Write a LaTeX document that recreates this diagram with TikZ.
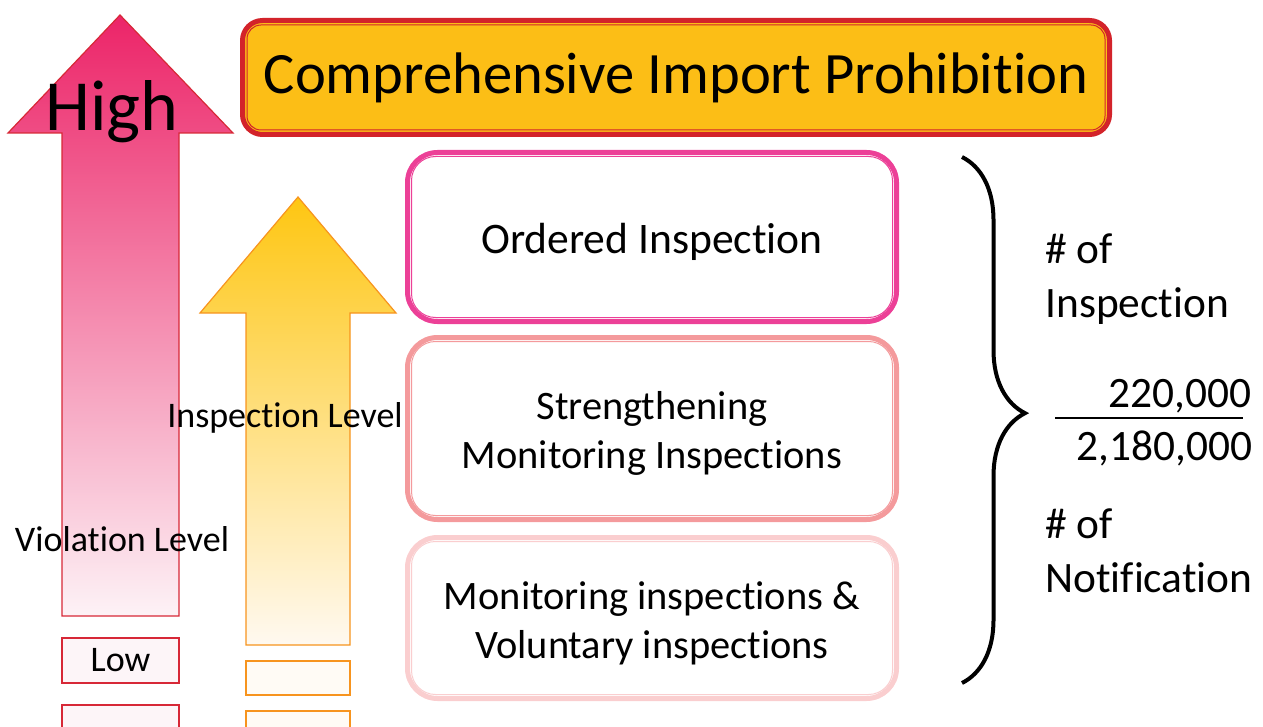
\documentclass[tikz,border=0pt]{standalone}
\usepackage{fontspec}
\setmainfont{Carlito}[Ligatures=NoCommon]
\usetikzlibrary{decorations.pathreplacing}

\definecolor{titlefill}{RGB}{252,190,22}
\definecolor{titleline}{RGB}{211,35,42}
\definecolor{vtop}{RGB}{236,36,104}
\definecolor{vbot}{RGB}{253,242,246}
\definecolor{vline}{RGB}{215,40,55}
\definecolor{vfill}{RGB}{253,245,248}
\definecolor{itop}{RGB}{254,198,18}
\definecolor{ibot}{RGB}{255,249,240}
\definecolor{iline}{RGB}{247,148,30}
\definecolor{ifill}{RGB}{255,251,245}
\definecolor{oiline}{RGB}{236,64,151}
\definecolor{smiline}{RGB}{244,154,156}
\definecolor{mviline}{RGB}{250,206,207}

\tikzset{
  stage/.style={draw=#1, line width=2.5pt, rounded corners=15pt, fill=white,
    minimum width=244.5pt, inner sep=0pt},
  stagetext/.style={align=center, inner sep=0pt, font=\fontsize{20.2}{24.5}\selectfont},
  levelbox/.style={draw=#1, line width=0.8pt, inner sep=0pt},
  lbl/.style={inner sep=0pt, font=\fontsize{18}{22}\selectfont},
  side/.style={inner sep=0pt, align=left, font=\fontsize{21.7}{27}\selectfont},
}

\begin{document}
\begin{tikzpicture}[x=0.5pt,y=-0.5pt]
  \useasboundingbox (0,0) rectangle (1263,727);

  % violation level arrow
  \shadedraw[top color=vtop, bottom color=vbot, draw=vline, line width=0.6pt]
    (120,15) -- (233,133) -- (179,133) -- (179,616) -- (62,616) -- (62,133) -- (8,133) -- cycle;
  \node[levelbox=vline, fill=vfill, minimum width=58.5pt, minimum height=22.5pt, lbl] (lo) at (120.5,660.5) {Low};
  \node[levelbox=vline, fill=vfill, minimum width=58.5pt, minimum height=22.5pt] (lo2) at (120.5,727.5) {};

  % inspection level arrow
  \shadedraw[top color=itop, bottom color=ibot, draw=iline, line width=0.6pt]
    (298,197) -- (396,313) -- (350,313) -- (350,645) -- (246,645) -- (246,313) -- (200,313) -- cycle;
  \node[levelbox=iline, fill=ifill, minimum width=52pt, minimum height=17pt] (il1) at (298,678) {};
  \node[levelbox=iline, fill=ifill, minimum width=52pt, minimum height=17pt] (il2) at (298,728) {};

  \node[inner sep=0pt, anchor=base, font=\fontsize{36}{40}\selectfont] (hi) at (112,131) {High};
  \node[lbl, anchor=base] (vl) at (122,551) {Violation Level};
  \node[lbl, anchor=base] (isl) at (285,427) {Inspection Level};

  % title
  \node[draw=titleline, line width=2.5pt, rounded corners=10pt, fill=titlefill,
    minimum width=433.5pt, minimum height=57pt, inner sep=0pt,
    font=\fontsize{29.3}{34}\selectfont] (t) at (676,77.5) {\raisebox{-1.5pt}{Comprehensive Import Prohibition}};
  \draw[titleline, line width=0.5pt, rounded corners=7pt]
    ([shift={(7,7)}]t.north west) rectangle ([shift={(-7,-7)}]t.south east);

  % inspection stages
  \node[stage=oiline, minimum height=84.5pt] (oi) at (652,237) {};
  \node[stage=smiline, minimum height=91pt] (smi) at (652,428.5) {};
  \node[stage=mviline, minimum height=80.5pt] (mvi) at (652,618) {};
  \foreach \b/\c in {oi/oiline, smi/smiline, mvi/mviline}
    \draw[\c, line width=0.5pt, rounded corners=12pt]
      ([shift={(6.5,6.5)}]\b.north west) rectangle ([shift={(-6.5,-6.5)}]\b.south east);
  \node[stagetext, font=\fontsize{21.8}{24.5}\selectfont] (oit) at ([yshift=-2.5pt]oi.center) {Ordered Inspection};
  \node[stagetext] (smit) at ([yshift=-2.5pt]smi.center) {Strengthening\\Monitoring Inspections};
  \node[stagetext] (mvit) at ([yshift=-2.5pt]mvi.center) {Monitoring inspections \&\\Voluntary inspections};

  % ratio
  \coordinate (bt) at (962,157);
  \coordinate (bb) at (962,683);
  \draw[line width=2pt, decorate, decoration={brace, amplitude=31.5pt, aspect=0.487}] (bt) -- (bb);
  \node[side, anchor=base west] (ni) at (1045,317) {\# of\\Inspection};
  \node[side, anchor=base east] (num) at (1252,407) {220,000};
  \coordinate (fl) at (1055,418);
  \coordinate (fr) at (1243,418);
  \draw[line width=1.2pt] (fl) -- (fr);
  \node[side, anchor=base east] (den) at (1253,460) {2,180,000};
  \node[side, anchor=base west] (nn) at (1045,592) {\# of\\Notification};
\end{tikzpicture}
\end{document}
